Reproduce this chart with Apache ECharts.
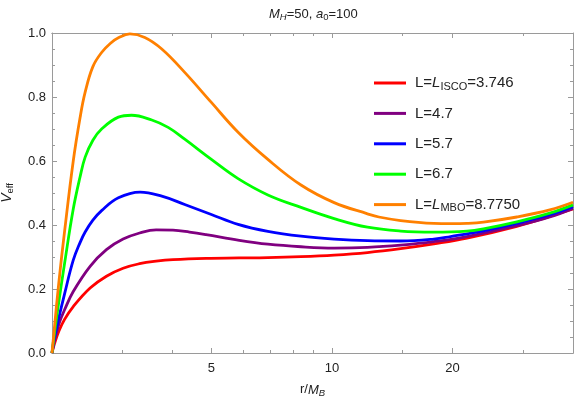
<!DOCTYPE html>
<html><head><meta charset="utf-8">
<script src="https://cdn.jsdelivr.net/npm/echarts@6/dist/echarts.min.js"></script>
<style>html,body{margin:0;padding:0;background:#fff}#c{width:576px;height:401px}</style>
</head><body><div id="c"></div>
<script>
// ---- data ----
const seriesNames = ['L=L_ISCO=3.746', 'L=4.7', 'L=5.7', 'L=6.7', 'L=L_MBO=8.7750'];
const seriesColors = ['#ff0000', '#800080', '#0000ff', '#00ff00', '#ff8000'];

const rRed = [2, 2.03, 2.08, 2.15, 2.26, 2.49, 2.735, 3.01, 3.31, 3.64, 4.01, 4.85, 5.87, 6.92, 8.37, 10.13, 12.27, 14.85, 17.97, 21.75, 28.96, 35, 40];
const vRed = [0, 0.03, 0.068, 0.105, 0.145, 0.203, 0.24, 0.265, 0.279, 0.287, 0.292, 0.296, 0.297, 0.298, 0.301, 0.306, 0.314, 0.326, 0.341, 0.359, 0.396, 0.427, 0.450];

const rPurple = [2, 2.03, 2.08, 2.15, 2.26, 2.49, 2.735, 3.01, 3.31, 3.64, 4.01, 4.41, 4.85, 5.87, 6.92, 8.37, 10.13, 12.27, 14.85, 17.97, 21.75, 28.96, 35, 40];
const vPurple = [0, 0.04, 0.09, 0.135, 0.192, 0.271, 0.323, 0.356, 0.375, 0.385, 0.384, 0.378, 0.370, 0.352, 0.340, 0.332, 0.328, 0.330, 0.337, 0.348, 0.364, 0.398, 0.425, 0.452];

const rBlue = [2, 2.03, 2.08, 2.15, 2.26, 2.35, 2.42, 2.53, 2.66, 2.93, 3.32, 3.76, 4.29, 5, 5.83, 6.92, 8.37, 10.13, 12.27, 14.85, 17.97, 19.78, 23.9, 28.96, 35, 40];
const vBlue = [0, 0.05, 0.11, 0.185, 0.29, 0.345, 0.378, 0.415, 0.445, 0.485, 0.503, 0.490, 0.464, 0.433, 0.402, 0.380, 0.365, 0.356, 0.351, 0.350, 0.356, 0.364, 0.382, 0.405, 0.432, 0.457];

const rGreen = [2, 2.03, 2.08, 2.15, 2.26, 2.35, 2.42, 2.53, 2.66, 2.93, 3.16, 3.55, 3.9, 4.29, 5, 5.83, 6.92, 8.37, 10.13, 12.27, 14.85, 17.97, 21.75, 23.9, 28.96, 35, 40];
const vGreen = [0, 0.065, 0.16, 0.28, 0.45, 0.55, 0.612, 0.665, 0.70, 0.737, 0.743, 0.728, 0.705, 0.668, 0.605, 0.545, 0.494, 0.455, 0.420, 0.393, 0.381, 0.378, 0.381, 0.388, 0.410, 0.437, 0.463];

const rOrange = [2, 2.03, 2.08, 2.15, 2.26, 2.35, 2.42, 2.53, 2.66, 2.8, 2.93, 3.13, 3.41, 3.76, 4.29, 5, 5.83, 6.92, 8.37, 10.13, 12.27, 13.1, 14.85, 17.97, 19.78, 21.75, 23.9, 28.96, 35, 40];
const vOrange = [0, 0.085, 0.22, 0.38, 0.60, 0.735, 0.815, 0.895, 0.939, 0.968, 0.985, 0.997, 0.986, 0.950, 0.877, 0.783, 0.690, 0.605, 0.525, 0.470, 0.435, 0.425, 0.414, 0.405, 0.404, 0.405, 0.409, 0.425, 0.447, 0.471];

const xMajorTicks = [5, 10, 20];
const xMinorTicks = [3, 4, 6, 7, 8, 9, 15, 30];

// ---- chart ----
const FONT = '"Liberation Sans", Arial, sans-serif';
const FRAME = '#9a9a9a';
const TXT = '#222';
const legendRich = {
  isco: '{p|L=}{i|L}{s|ISCO}{n|=3.746}',
  mbo: '{p|L=}{i|L}{s|MBO}{n|=8.7750}'
};
function legendFmt(name) {
  if (name.indexOf('ISCO') >= 0) return legendRich.isco;
  if (name.indexOf('MBO') >= 0) return legendRich.mbo;
  return '{p|' + name + '}';
}
const pairs = (rs, vs) => rs.map((r, i) => [r, vs[i]]);
const allData = [pairs(rRed, vRed), pairs(rPurple, vPurple), pairs(rBlue, vBlue), pairs(rGreen, vGreen), pairs(rOrange, vOrange)];

function tok(size, italic, pad) {
  const o = { fontSize: size, fontFamily: FONT, color: TXT, lineHeight: 20, fontWeight: 'normal' };
  if (italic) o.fontStyle = 'italic';
  if (pad) o.padding = pad;
  return o;
}

function xAx(pos, major, showLabel) {
  return {
    type: 'log', logBase: 10, min: 2, max: 40, position: pos,
    gridIndex: 0,
    axisLine: { show: true, onZero: false, lineStyle: { color: FRAME, width: 1 } },
    splitLine: { show: false },
    minorTick: { show: false },
    axisTick: { show: true, inside: true, length: major ? 5 : 3, lineStyle: { color: FRAME },
      customValues: major ? xMajorTicks : xMinorTicks },
    axisLabel: showLabel ? { show: true, customValues: xMajorTicks, margin: 9,
      formatter: v => String(Math.round(v)), fontFamily: FONT, fontSize: 13, color: TXT } : { show: false },
    name: (showLabel ? '{n|r/}{i|M}{si|B}' : ''),
    nameLocation: 'middle', nameGap: 20,
    nameTextStyle: { fontFamily: FONT, fontSize: 13, color: TXT, lineHeight: 20,
      rich: { n: tok(13, false), i: tok(13, true), si: tok(9.5, true, [7, 0, 0, 0]) } }
  };
}
function yAx(pos, showLabel) {
  return {
    type: 'value', min: 0, max: 1, interval: 0.2, position: pos,
    axisLine: { show: true, onZero: false, lineStyle: { color: FRAME, width: 1 } },
    splitLine: { show: false },
    axisTick: { show: true, inside: true, length: 5, lineStyle: { color: FRAME } },
    minorTick: { show: true, splitNumber: 4, length: 3, lineStyle: { color: FRAME } },
    axisLabel: showLabel ? { show: true, margin: 6, formatter: v => v.toFixed(1), fontFamily: FONT, fontSize: 13, color: TXT } : { show: false },
    name: showLabel ? '{i|V}{s|eff}' : '',
    nameLocation: 'middle', nameRotate: 90, nameGap: 31,
    nameTextStyle: { fontFamily: FONT, fontSize: 14, color: TXT, lineHeight: 20,
      rich: { i: tok(14, true), s: tok(9.5, false, [7, 0, 0, 0]) } }
  };
}

const chart = echarts.init(document.getElementById('c'), null, { renderer: 'canvas' });
chart.setOption({
  animation: false,
  backgroundColor: '#fff',
  title: {
    text: '{i|M}{si|H}{n|=50, }{i|a}{s|0}{n|=100}',
    left: 264, top: -1,
    textStyle: { fontFamily: FONT, fontSize: 13, fontWeight: 'normal', color: TXT, lineHeight: 20,
      rich: { n: tok(13, false), i: tok(13, true), si: tok(9.5, true, [7, 0, 0, 0]), s: tok(9.5, false, [7, 0, 0, 0]) } }
  },
  grid: { left: 52, top: 33, width: 521, height: 320, outerBoundsMode: 'none', containLabel: false, show: false },
  legend: {
    orient: 'vertical', left: 369, top: 68, itemWidth: 32, itemHeight: 3, itemGap: 10.4,
    icon: 'rect', data: seriesNames, formatter: legendFmt,
    textStyle: { fontFamily: FONT, fontSize: 15, color: TXT, lineHeight: 20,
      rich: { p: tok(15, false, [0, 0, 0, 4]), n: tok(15, false), i: tok(15, true), s: tok(11, false, [7, 0, 0, 0]) } }
  },
  xAxis: [xAx('bottom', true, true), xAx('bottom', false, false), xAx('top', true, false), xAx('top', false, false)],
  yAxis: [yAx('left', true), yAx('right', false)],
  series: allData.map((d, i) => ({
    name: seriesNames[i], type: 'line', xAxisIndex: 0, yAxisIndex: 0,
    data: d, showSymbol: false, smooth: 0.4,
    lineStyle: { color: seriesColors[i], width: 2.8 }, itemStyle: { color: seriesColors[i] },
    emphasis: { disabled: true }, clip: true
  }))
});
</script></body></html>
